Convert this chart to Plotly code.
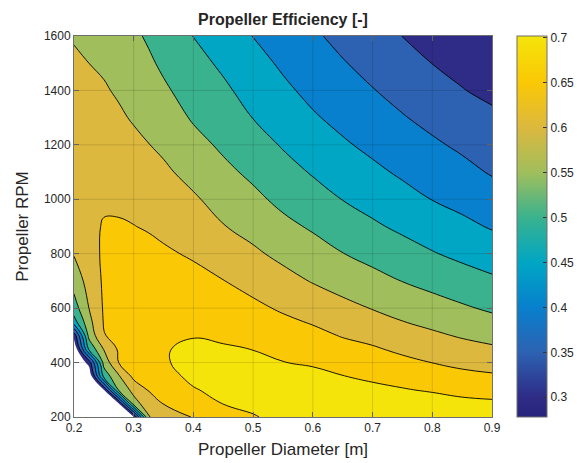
import numpy as np
import plotly.graph_objects as go

# ---------------- data ----------------
diameter = [0.2, 0.225, 0.25, 0.275, 0.3, 0.325, 0.35, 0.4, 0.45, 0.5,
            0.55, 0.6, 0.65, 0.7, 0.75, 0.8, 0.85, 0.9]
rpm = [200, 250, 300, 350, 400, 450, 500, 550, 600, 700, 800, 900, 1000,
       1100, 1200, 1300, 1400, 1500, 1600]

# efficiency columns, one per diameter, listed from 200 RPM up to 1600 RPM
eff_D0200 = [0.100, 0.100, 0.120, 0.150, 0.180, 0.200, 0.270, 0.430, 0.477, 0.521, 0.553, 0.572, 0.582, 0.587, 0.588, 0.584, 0.575, 0.560, 0.545]
eff_D0225 = [0.100, 0.120, 0.150, 0.200, 0.270, 0.460, 0.515, 0.535, 0.550, 0.568, 0.582, 0.589, 0.592, 0.592, 0.589, 0.582, 0.569, 0.550, 0.540]
eff_D0250 = [0.150, 0.200, 0.250, 0.468, 0.518, 0.553, 0.598, 0.603, 0.605, 0.607, 0.607, 0.603, 0.594, 0.584, 0.574, 0.564, 0.554, 0.544, 0.535]
eff_D0275 = [0.150, 0.250, 0.510, 0.545, 0.601, 0.607, 0.612, 0.614, 0.616, 0.617, 0.613, 0.604, 0.592, 0.580, 0.568, 0.556, 0.545, 0.533, 0.522]
eff_D0300 = [0.245, 0.530, 0.566, 0.613, 0.619, 0.623, 0.625, 0.626, 0.626, 0.621, 0.612, 0.601, 0.587, 0.573, 0.560, 0.546, 0.534, 0.521, 0.508]
eff_D0325 = [0.548, 0.578, 0.603, 0.618, 0.627, 0.632, 0.635, 0.636, 0.635, 0.628, 0.613, 0.596, 0.580, 0.566, 0.551, 0.535, 0.520, 0.507, 0.494]
eff_D0350 = [0.568, 0.602, 0.620, 0.635, 0.645, 0.646, 0.644, 0.639, 0.633, 0.621, 0.606, 0.590, 0.574, 0.558, 0.541, 0.524, 0.507, 0.492, 0.480]
eff_D0400 = [0.603, 0.628, 0.647, 0.660, 0.666, 0.661, 0.647, 0.638, 0.630, 0.613, 0.595, 0.576, 0.556, 0.535, 0.515, 0.495, 0.480, 0.465, 0.449]
eff_D0450 = [0.636, 0.651, 0.662, 0.669, 0.669, 0.655, 0.642, 0.632, 0.622, 0.601, 0.577, 0.552, 0.532, 0.511, 0.492, 0.475, 0.458, 0.442, 0.426]
eff_D0500 = [0.647, 0.660, 0.667, 0.668, 0.662, 0.649, 0.636, 0.623, 0.610, 0.584, 0.558, 0.534, 0.511, 0.490, 0.470, 0.449, 0.433, 0.416, 0.399]
eff_D0550 = [0.662, 0.672, 0.674, 0.666, 0.651, 0.637, 0.623, 0.609, 0.594, 0.566, 0.538, 0.512, 0.488, 0.467, 0.446, 0.428, 0.409, 0.393, 0.378]
eff_D0600 = [0.675, 0.680, 0.674, 0.661, 0.645, 0.628, 0.612, 0.596, 0.580, 0.547, 0.520, 0.494, 0.469, 0.446, 0.4255, 0.405, 0.388, 0.372, 0.357]
eff_D0650 = [0.690, 0.677, 0.664, 0.651, 0.633, 0.615, 0.597, 0.580, 0.563, 0.531, 0.501, 0.475, 0.449, 0.428, 0.406, 0.387, 0.370, 0.353, 0.337]
eff_D0700 = [0.695, 0.678, 0.660, 0.642, 0.624, 0.605, 0.586, 0.567, 0.548, 0.515, 0.485, 0.457, 0.433, 0.410, 0.389, 0.371, 0.352, 0.335, 0.318]
eff_D0750 = [0.702, 0.678, 0.653, 0.632, 0.611, 0.591, 0.571, 0.551, 0.534, 0.499, 0.469, 0.441, 0.416, 0.393, 0.373, 0.353, 0.335, 0.317, 0.2995]
eff_D0800 = [0.698, 0.671, 0.645, 0.622, 0.5995, 0.579, 0.558, 0.538, 0.5195, 0.485, 0.453, 0.426, 0.399, 0.378, 0.357, 0.337, 0.318, 0.2995, 0.292]
eff_D0850 = [0.692, 0.662, 0.636, 0.612, 0.589, 0.567, 0.545, 0.525, 0.506, 0.471, 0.439, 0.411, 0.386, 0.363, 0.342, 0.322, 0.301, 0.293, 0.285]
eff_D0900 = [0.690, 0.658, 0.631, 0.606, 0.581, 0.557, 0.535, 0.513, 0.493, 0.458, 0.426, 0.396, 0.371, 0.346, 0.326, 0.305, 0.294, 0.286, 0.278]

x_ticks = [0.2, 0.3, 0.4, 0.5, 0.6, 0.7, 0.8, 0.9]
x_tick_text = ["0.2", "0.3", "0.4", "0.5", "0.6", "0.7", "0.8", "0.9"]
y_ticks = [200, 400, 600, 800, 1000, 1200, 1400, 1600]
y_tick_text = ["200", "400", "600", "800", "1000", "1200", "1400", "1600"]
cb_ticks = [0.3, 0.35, 0.4, 0.45, 0.5, 0.55, 0.6, 0.65, 0.7]
cb_tick_text = ["0.3", "0.35", "0.4", "0.45", "0.5", "0.55", "0.6", "0.65", "0.7"]

z_min, z_max = 0.278, 0.702
level_start, level_end, level_step = 0.3, 0.65, 0.05
blank_level = 0.25   # below this the reference leaves the area blank

# ---------------- styling ----------------
band_colors = ["#FFFFFF",  # blank area
               "#2E2C86", "#2D62B2", "#0880CD", "#00A6C4", "#3AB28E",
               "#A0BE5C", "#DCB83E", "#FAC805", "#F5E40A"]
n_b = len(band_colors) - 1
band_scale = [[i / n_b, c] for i, c in enumerate(band_colors)]

cb_levels = [z_min] + cb_ticks
cb_colors = ["#26247A"] + band_colors[1:]
cb_scale = [[(v - z_min) / (z_max - z_min), c] for v, c in zip(cb_levels, cb_colors)]
cb_scale[-1][0] = 1.0

Z = np.column_stack([eff_D0200, eff_D0225, eff_D0250, eff_D0275, eff_D0300,
                     eff_D0325, eff_D0350, eff_D0400, eff_D0450, eff_D0500,
                     eff_D0550, eff_D0600, eff_D0650, eff_D0700, eff_D0750,
                     eff_D0800, eff_D0850, eff_D0900])

FONT = "Liberation Sans, Arial, Helvetica, sans-serif"
TXT = "#262626"
AX = "#6e6e6e"
SMOOTH = 1.2

fig = go.Figure()

fig.add_trace(go.Contour(
    x=diameter, y=rpm, z=Z,
    autocontour=False,
    contours=dict(start=blank_level, end=level_end, size=level_step,
                  coloring="fill", showlines=False),
    colorscale=band_scale, showscale=False,
    line=dict(width=0, smoothing=SMOOTH),
    hoverinfo="skip",
))

fig.add_trace(go.Contour(
    x=diameter, y=rpm, z=Z,
    autocontour=False,
    contours=dict(start=level_start, end=level_end, size=level_step,
                  coloring="none"),
    line=dict(color="black", width=0.9, smoothing=SMOOTH),
    showscale=False,
    hoverinfo="skip",
))

fig.add_trace(go.Scatter(
    x=[None], y=[None], mode="markers", showlegend=False, hoverinfo="skip",
    marker=dict(color=[0.5], colorscale=cb_scale, cmin=z_min, cmax=z_max,
                showscale=True,
                colorbar=dict(
                    x=(517 - 74) / 418, xanchor="left", xref="paper",
                    y=0.5, yanchor="middle", len=1.0, lenmode="fraction",
                    thickness=30, thicknessmode="pixels",
                    xpad=0, ypad=0,
                    outlinecolor=AX, outlinewidth=1,
                    tickvals=cb_ticks, ticktext=cb_tick_text,
                    ticks="inside", ticklen=4, tickcolor="#333333",
                    tickfont=dict(family=FONT, size=12, color=TXT),
                )),
))

# grid lines drawn over the filled contours (as in the reference)
for xv in x_ticks[1:-1]:
    fig.add_shape(type="line", x0=xv, x1=xv, y0=0, y1=1, xref="x", yref="y domain",
                  line=dict(color="rgba(0,0,0,0.13)", width=1), layer="above")
for yv in y_ticks[1:-1]:
    fig.add_shape(type="line", x0=0, x1=1, y0=yv, y1=yv, xref="x domain", yref="y",
                  line=dict(color="rgba(0,0,0,0.13)", width=1), layer="above")

fig.update_layout(
    width=577, height=463,
    margin=dict(l=74, r=85, t=36, b=46, autoexpand=False),
    paper_bgcolor="white", plot_bgcolor="white",
    font=dict(family=FONT, color=TXT),
    title=dict(text="<b>Propeller Efficiency [-]</b>", x=283 / 577, xanchor="center",
               y=1 - 19 / 463, yanchor="middle", yref="container", xref="container",
               font=dict(family=FONT, size=16, color=TXT)),
    xaxis=dict(range=[0.2, 0.9], tickvals=x_ticks, ticktext=x_tick_text,
               ticks="inside", ticklen=5, tickcolor=AX, showline=True, linecolor=AX,
               linewidth=1, mirror="ticks", showgrid=False, zeroline=False,
               tickfont=dict(family=FONT, size=12, color=TXT),
               title=dict(text="Propeller Diameter [m]", standoff=8,
                          font=dict(family=FONT, size=17, color=TXT))),
    yaxis=dict(range=[200, 1600], tickvals=y_ticks, ticktext=y_tick_text,
               ticks="inside", ticklen=5, tickcolor=AX, showline=True, linecolor=AX,
               linewidth=1, mirror="ticks", showgrid=False, zeroline=False,
               tickfont=dict(family=FONT, size=12, color=TXT),
               title=dict(text="Propeller RPM", standoff=10,
                          font=dict(family=FONT, size=17, color=TXT))),
    showlegend=False,
)

fig.write_html("out.html")
